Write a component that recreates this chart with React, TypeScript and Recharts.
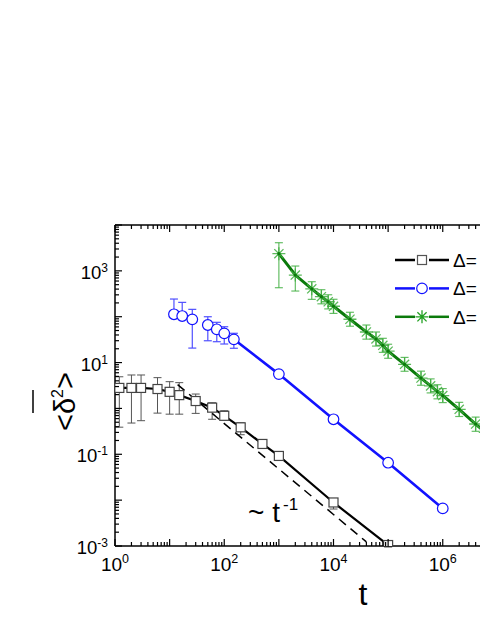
import React from "react";
import {
  ComposedChart,
  Line,
  XAxis,
  YAxis,
  ErrorBar,
  Legend,
  Label,
  ReferenceDot,
} from "recharts";

const FONT = "Arial, 'Liberation Sans', Helvetica, sans-serif";

// black squares
const blackT = [1.2, 2, 3, 6, 10, 15, 30, 60, 100, 200, 500, 1000, 10000, 100000];
const blackV = [2.8, 2.8, 2.8, 2.65, 2.3, 1.95, 1.45, 1.04, 0.69, 0.387, 0.168, 0.092, 0.0089, 0.00105];
const blackLo = [2.41, 2.32, 2.26, 1.86, 1.55, 1.2, 0.67, 0.46, 0.13, 0.12, 0.03, 0.012, 0.0025, 0.0001];
const blackHi = [2.1, 2.56, 2.56, 2.04, 1.53, 1.7, 0.61, 0.29, 0.2, 0.1, 0.03, 0.012, 0.0012, 0.0001];

// blue circles
const blueT = [12, 17, 26, 50, 73, 100, 150, 1000, 10000, 100000, 1000000];
const blueV = [113, 103.5, 87.7, 65.9, 53.1, 43.4, 32.1, 5.6, 0.58, 0.0655, 0.0066];
const blueLo = [15, 15, 67, 36, 24.6, 18, 11.6, 0.5, 0.05, 0.005, 0.0005];
const blueHi = [130, 102, 57, 34, 22.4, 17, 11.4, 0.5, 0.05, 0.005, 0.0005];

// green stars
const greenT = [1e3, 2e3, 4e3, 6e3, 8e3, 1e4, 2e4, 4e4, 6e4, 8e4, 1e5, 2e5, 4e5, 6e5, 8e5, 1e6, 2e6, 4e6, 6e6];
const greenV = [2366, 811, 406, 273, 212, 169, 88, 46.4, 32.7, 23.8, 17.7, 9.16, 4.6, 3.11, 2.32, 1.91, 0.957, 0.457, 0.3];
const greenLo = [1937, 448, 167, 82, 64, 51, 26, 14, 9.8, 7.1, 5.3, 2.7, 1.4, 0.93, 0.7, 0.57, 0.29, 0.14, 0.09];
const greenHi = [1744, 463, 174, 115, 89, 71, 37, 19.5, 13.7, 10, 7.4, 3.8, 1.9, 1.3, 0.97, 0.8, 0.4, 0.19, 0.13];

// ~ t^-1 guide
const guideT = [14, 40000];
const guideV = [3.3, 0.00123];

const legendLabels = ["Δ=", "Δ=", "Δ="];
const xLabelExps = [0, 2, 4, 6];
const yLabelExps = [-3, -1, 1, 3];
const xExps = [0, 1, 2, 3, 4, 5, 6, 7, 8];
const yExps = [-3, -2, -1, 0, 1, 2, 3, 4];

const BLUE = "#1212ff";
const GREEN = "#0b7a0b";
const LIGHT_GREEN = "#3fae3f";

const rows = (t: number[], v: number[], lo: number[], hi: number[]) =>
  t.map((x, i) => ({ t: x, v: v[i], err: [lo[i], hi[i]] }));

const blackData = rows(blackT, blackV, blackLo, blackHi);
const blueData = rows(blueT, blueV, blueLo, blueHi);
const blueEarly = blueData.slice(0, 6);
const blueLate = blueData.slice(6);
const greenData = rows(greenT, greenV, greenLo, greenHi);
const guideData = guideT.map((t, i) => ({ t, v: guideV[i] }));

const logTicks = (exps: number[]) => {
  const out: number[] = [];
  exps.forEach((e, k) => {
    const top = k === exps.length - 1;
    for (let m = 1; m <= (top ? 1 : 9); m++) out.push(Number((m * 10 ** e).toPrecision(10)));
  });
  return out;
};
const xTicks = logTicks(xExps);
const yTicks = logTicks(yExps);

const decadeOf = (v: number) => {
  const e = Math.log10(v);
  const r = Math.round(e);
  return Math.abs(e - r) < 1e-6 ? r : null;
};

const BottomTick = (p: any) => {
  const e = decadeOf(p.payload.value);
  const len = e !== null ? 7 : 4;
  return (
    <g>
      <line x1={p.x} x2={p.x} y1={p.y} y2={p.y - len} stroke="#000" strokeWidth={1.2} />
      {e !== null && xLabelExps.includes(e) && (
        <text x={p.x} y={p.y + 25} textAnchor="middle" fontSize={19} fontFamily={FONT} fill="#000">
          10
          <tspan dy={-8} fontSize={12.5}>{e}</tspan>
        </text>
      )}
    </g>
  );
};

const TopTick = (p: any) => {
  const e = decadeOf(p.payload.value);
  const len = e !== null ? 7 : 4;
  return <line x1={p.x} x2={p.x} y1={p.y} y2={p.y + len} stroke="#000" strokeWidth={1.2} />;
};

const LeftTick = (p: any) => {
  const e = decadeOf(p.payload.value);
  const len = e !== null ? 7 : 4;
  return (
    <g>
      <line x1={p.x} x2={p.x + len} y1={p.y} y2={p.y} stroke="#000" strokeWidth={1.2} />
      {e !== null && yLabelExps.includes(e) && (
        <text x={p.x - 7} y={p.y + 8} textAnchor="end" fontSize={18.5} fontFamily={FONT} fill="#000">
          10
          <tspan dy={-7} fontSize={12}>{e}</tspan>
        </text>
      )}
    </g>
  );
};

const Square = (p: any) => {
  if (p.cx == null || p.cy == null) return <g key={p.index} />;
  return (
    <rect key={p.index} x={p.cx - 4.5} y={p.cy - 4.5} width={9} height={9}
      fill="#fff" stroke="#444" strokeWidth={1.2} />
  );
};

const Circle = (p: any) => {
  if (p.cx == null || p.cy == null) return <g key={p.index} />;
  return <circle key={p.index} cx={p.cx} cy={p.cy} r={5.3} fill="#fff" stroke={BLUE} strokeWidth={1.2} />;
};

const starPath = (cx: number, cy: number, r: number) => {
  const d = r * 0.7071;
  return `M${cx - r},${cy}L${cx + r},${cy}M${cx},${cy - r}L${cx},${cy + r}` +
    `M${cx - d},${cy - d}L${cx + d},${cy + d}M${cx - d},${cy + d}L${cx + d},${cy - d}`;
};

const Star = (p: any) => {
  if (p.cx == null || p.cy == null) return <g key={p.index} />;
  return (
    <g key={p.index}>
      <path d={starPath(p.cx, p.cy, 6.5)} stroke={LIGHT_GREEN} strokeOpacity={0.85} strokeWidth={1.3} fill="none" />
      <circle cx={p.cx} cy={p.cy} r={1.6} fill={GREEN} />
    </g>
  );
};

const YTitle = (props: any) => {
  const vb = props.viewBox;
  const cx = vb.x + 60;
  const cy = vb.y + 176.5;
  return (
    <g transform={`translate(${cx},${cy}) rotate(-90)`}>
      <text x={0} y={15} textAnchor="middle" fontSize={29} fontFamily={FONT} fill="#000">
        {"<δ"}
        <tspan dy={-12} fontSize={16}>2</tspan>
        <tspan dy={12}>{">"}</tspan>
      </text>
      <line x1={-11.5} x2={11.5} y1={-27} y2={-27} stroke="#000" strokeWidth={1.5} />
    </g>
  );
};

const XTitle = (props: any) => {
  const vb = props.viewBox;
  return (
    <text x={vb.x + 248} y={vb.y + 59} textAnchor="middle" fontSize={32} fontFamily={FONT} fill="#000">
      t
    </text>
  );
};

const GuideNote = (p: any) => (
  <text x={p.cx} y={p.cy} fontSize={28} fontFamily={FONT} fill="#000">
    {"~ t"}
    <tspan dx={3} dy={-12} fontSize={17}>-1</tspan>
  </text>
);

const legendColors = ["#000", BLUE, GREEN];

const renderLegend = () => (
  <svg width={88} height={84}>
    {legendLabels.map((lab, i) => {
      const y = 12 + i * 28.4;
      const c = legendColors[i];
      return (
        <g key={i}>
          <line x1={3} x2={23} y1={y} y2={y} stroke={c} strokeWidth={2.5} />
          <line x1={37} x2={57} y1={y} y2={y} stroke={c} strokeWidth={2.5} />
          {i === 0 && <rect x={25.5} y={y - 4.5} width={9} height={9} fill="#fff" stroke="#555" strokeWidth={1.2} />}
          {i === 1 && <circle cx={30} cy={y} r={5.3} fill="#fff" stroke={BLUE} strokeWidth={1.2} />}
          {i === 2 && <path d={starPath(30, y, 6.5)} stroke="#22a022" strokeWidth={1.3} fill="none" />}
          <text x={61} y={y + 7} fontSize={19} fontFamily={FONT} fill="#000">{lab}</text>
        </g>
      );
    })}
  </svg>
);

export default function App() {
  return (
    <div style={{ position: "absolute", left: 0, top: 0, width: 480, height: 621, overflow: "hidden", background: "#fff" }}>
      <ComposedChart width={560} height={621} margin={{ top: 224, right: 8, bottom: 0, left: 0 }}>
        <XAxis
          dataKey="t"
          type="number"
          scale="log"
          domain={[1, 1e8]}
          allowDataOverflow
          ticks={xTicks}
          interval={0}
          tickSize={0}
          tickMargin={0}
          height={75}
          axisLine={{ stroke: "#000", strokeWidth: 1.5 }}
          tickLine={false}
          tick={<BottomTick />}
        >
          <Label content={<XTitle />} />
        </XAxis>
        <XAxis
          xAxisId="top"
          orientation="top"
          dataKey="t"
          type="number"
          scale="log"
          domain={[1, 1e8]}
          allowDataOverflow
          ticks={xTicks}
          interval={0}
          tickSize={0}
          tickMargin={0}
          height={1}
          axisLine={{ stroke: "#000", strokeWidth: 1.5 }}
          tickLine={false}
          tick={<TopTick />}
        />
        <YAxis
          type="number"
          scale="log"
          domain={[1e-3, 1e4]}
          allowDataOverflow
          ticks={yTicks}
          interval={0}
          tickSize={0}
          tickMargin={0}
          width={115}
          axisLine={{ stroke: "#000", strokeWidth: 1.5 }}
          tickLine={false}
          tick={<LeftTick />}
        >
          <Label content={<YTitle />} />
        </YAxis>

        <Line data={blackData} dataKey="v" stroke="#000" strokeWidth={2.2} dot={Square} activeDot={false} isAnimationActive={false}>
          <ErrorBar dataKey="err" direction="y" width={4} stroke="#555" strokeWidth={1} />
        </Line>
        <Line data={guideData} dataKey="v" stroke="#000" strokeWidth={1.5} strokeDasharray="9 6" dot={false} activeDot={false} isAnimationActive={false} />
        <Line data={blueEarly} dataKey="v" stroke="none" dot={Circle} activeDot={false} isAnimationActive={false}>
          <ErrorBar dataKey="err" direction="y" width={4} stroke="#5050ff" strokeWidth={1.2} />
        </Line>
        <Line data={blueLate} dataKey="v" stroke={BLUE} strokeWidth={2.6} dot={Circle} activeDot={false} isAnimationActive={false}>
          <ErrorBar dataKey="err" direction="y" width={4} stroke="#5050ff" strokeWidth={1.2} />
        </Line>
        <Line data={greenData} dataKey="v" stroke={GREEN} strokeWidth={3} dot={Star} activeDot={false} isAnimationActive={false}>
          <ErrorBar dataKey="err" direction="y" width={4} stroke={LIGHT_GREEN} strokeOpacity={0.8} strokeWidth={1.2} />
        </Line>

        <ReferenceDot x={273} y={0.00333} r={1} shape={<GuideNote />} />

        <Legend
          layout="vertical"
          align="center"
          verticalAlign="middle"
          wrapperStyle={{ left: 392, top: 248, width: 88, height: 84 }}
          content={renderLegend}
        />
      </ComposedChart>
    </div>
  );
}
